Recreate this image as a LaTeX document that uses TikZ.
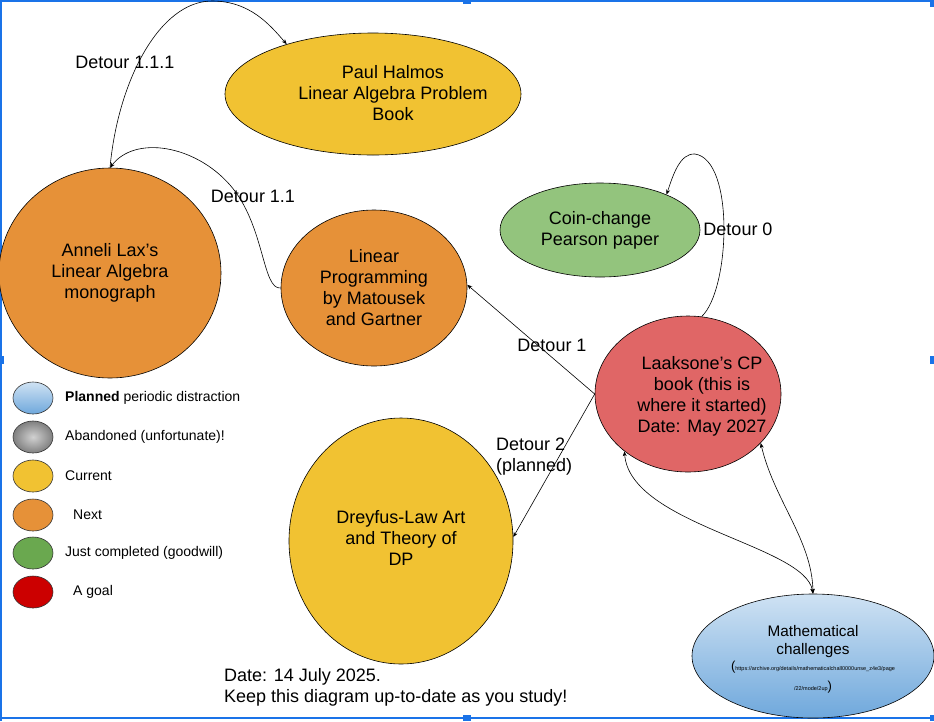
\documentclass[tikz,border=0pt]{standalone}
\usepackage{fontspec}
\setmainfont{Liberation Sans}
\usetikzlibrary{shapes.geometric,arrows.meta}
\definecolor{gyellow}{HTML}{F1C232}
\definecolor{gorange}{HTML}{E69138}
\definecolor{ggreenl}{HTML}{93C47D}
\definecolor{ggreen}{HTML}{6AA84F}
\definecolor{gred}{HTML}{CC0000}
\definecolor{gredl}{HTML}{E06666}
\definecolor{gbluel}{HTML}{CFE2F3}
\definecolor{gblue}{HTML}{6FA8DC}
\definecolor{selblue}{HTML}{1A73E8}
% text block shifted inside its shape: #1 = twice the x shift, #2 = raise, #3 = lines
\newcommand{\shtext}[3]{\makebox[0pt]{\hspace{#1}\raisebox{#2}[\height][\depth]{\begin{tabular}{@{}c@{}}#3\end{tabular}}}}
\begin{document}
\begin{tikzpicture}[x=1pt,y=-1pt,
  bubble/.style={ellipse,draw=black,line width=0.6pt,inner sep=0pt,align=center,
    font=\fontsize{18}{21}\selectfont},
  legdot/.style={ellipse,draw=black!80,line width=0.6pt,inner sep=0pt,
    minimum width=40pt,minimum height=32pt},
  legtext/.style={anchor=west,inner sep=0pt,font=\fontsize{14}{16}\selectfont},
  lbl/.style={inner sep=0pt,font=\fontsize{18}{21}\selectfont},
  conn/.style={line width=0.6pt,-{Stealth[length=5pt,width=4pt]}},
  conn2/.style={line width=0.6pt,{Stealth[length=5pt,width=4pt]}-{Stealth[length=5pt,width=4pt]}},
  handle/.style={fill=selblue,draw=none}]
\useasboundingbox (0,0) rectangle (934,721);

% selection frame
\draw[selblue,line width=1.5pt] (1,721) -- (1,1) -- (931,1);
\draw[selblue,line width=1.5pt] (0,718) -- (931,718);
\fill[handle] (463,0) rectangle (471,4);
\fill[handle] (930,0) rectangle (934,7);
\fill[handle] (0,356) rectangle (4,364);
\fill[handle] (930,356) rectangle (934,364);
\fill[handle] (463,715) rectangle (471,721);
\fill[handle] (930,715) rectangle (934,721);

% main nodes
\node[bubble,fill=gyellow,minimum width=296pt,minimum height=122pt] (halmos) at (373,94)
  {\shtext{40pt}{-1pt}{Paul Halmos\\Linear Algebra Problem\\Book}};
\node[bubble,fill=gorange,minimum width=222pt,minimum height=210pt] (lax) at (110,273)
  {Anneli Lax’s\\Linear Algebra\\monograph};
\node[bubble,fill=gorange,minimum width=186pt,minimum height=156pt] (lp) at (374,288)
  {Linear\\Programming\\by Matousek\\and Gartner};
\node[bubble,fill=ggreenl,minimum width=200pt,minimum height=94pt] (coin) at (600,230)
  {Coin-change\\Pearson paper};
\node[bubble,fill=gredl,minimum width=186pt,minimum height=156pt] (laak) at (688,394)
  {\shtext{28pt}{-3pt}{Laaksone’s CP\\book (this is\\where it started)\\Date: May 2027}};
\node[bubble,fill=gyellow,minimum width=224pt,minimum height=246pt] (dp) at (401,541)
  {\shtext{0pt}{1pt}{Dreyfus-Law Art\\and Theory of\\DP}};
\node[bubble,top color=gbluel,bottom color=gblue,minimum width=242pt,minimum height=124pt,
  font=\fontsize{15.3}{18}\selectfont] (math) at (813,656)
  {\shtext{0pt}{-4pt}{Mathematical\\challenges\\[-2pt]
   {\fontsize{13}{15}\selectfont(}{\fontsize{5.5}{7}\selectfont https://archive.org/details/mathematicalchall0000unse\_z4e3/page}\\[2pt]
   {\fontsize{5.5}{7}\selectfont /22/mode/2up}{\fontsize{13}{15}\selectfont)}}};

% connectors
\draw[conn] (lax.north) .. controls (118,80) and (160,1) .. (212,1)
  .. controls (250,1) and (270,25) .. (halmos.150);
\draw[conn] (lp.west) .. controls (262,290) and (265,225) .. (230,185)
  .. controls (195,145) and (135,135) .. (lax.north);
\draw[conn] (laak.80) .. controls (730,290) and (735,160) .. (695,154)
  .. controls (680,153) and (673,175) .. (coin.28);
\draw[conn] (laak.west) -- (lp.2);
\draw[conn] (laak.west) -- (dp.2);
\draw[conn2] (laak.222.6) .. controls (630,525) and (805,545) .. (math.north);
\draw[conn2] (laak.326.8) .. controls (774,500) and (812,540) .. (math.north);

% connector labels
\node[lbl] (l111) at (125,62) {Detour 1.1.1};
\node[lbl] (l11) at (253,196) {Detour 1.1};
\node[lbl] (l0) at (738,229) {Detour 0};
\node[lbl] (l1) at (552,345) {Detour 1};
\node[lbl,anchor=west,align=left] (l2) at (496,457) {Detour 2\\(planned)};

% legend
\node[legdot,top color=gbluel,bottom color=gblue] (g1) at (33,398) {};
\node[legdot,inner color=black!18,outer color=black!50] (g2) at (33,437) {};
\node[legdot,fill=gyellow] (g3) at (33,476) {};
\node[legdot,fill=gorange] (g4) at (33,515) {};
\node[legdot,fill=ggreen] (g5) at (33,553) {};
\node[legdot,fill=gred] (g6) at (33,592) {};
\node[legtext] (t1) at (65,398) {\textbf{Planned} periodic distraction};
\node[legtext] (t2) at (65,437) {Abandoned (unfortunate)!};
\node[legtext] (t3) at (65,476) {Current};
\node[legtext] (t4) at (73,515) {Next};
\node[legtext] (t5) at (65,553) {Just completed (goodwill)};
\node[legtext] (t6) at (73,592) {A goal};

% footer
\node[lbl,anchor=west,align=left] (date) at (224,687.5)
  {Date: 14 July 2025.\\Keep this diagram up-to-date as you study!};
\end{tikzpicture}
\end{document}
